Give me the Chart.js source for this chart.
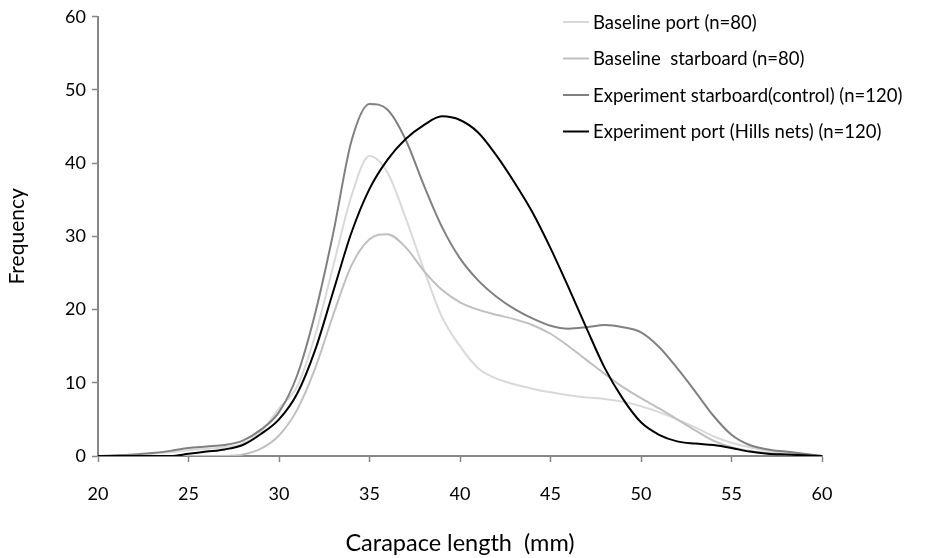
<!DOCTYPE html>
<html>
<head>
<meta charset="utf-8">
<script src="https://cdn.jsdelivr.net/npm/chart.js@4.4.1/dist/chart.umd.min.js"></script>
<style>
    html, body { margin: 0; padding: 0; background: #fff; }
    #wrap { width: 932px; height: 558px; }
</style>
</head>
<body>
<div id="wrap"><canvas id="lengthChart" width="932" height="558"></canvas></div>
<script>
// Carapace length classes (mm)
const lengths = [20, 21, 22, 23, 24, 25, 26, 27, 28, 29, 30, 31, 32, 33, 34, 35, 36, 37, 38, 39, 40,
    41, 42, 43, 44, 45, 46, 47, 48, 49, 50, 51, 52, 53, 54, 55, 56, 57, 58, 59, 60];

// Frequencies
const baselinePort = [0, 0, 0.1, 0.3, 0.5, 0.8, 1.0, 1.2, 1.7, 3.3, 6.5, 9.5, 16.5, 26, 35.5, 41, 38.7, 32.5, 25.5, 19, 15,
    12, 10.6, 9.8, 9.2, 8.7, 8.3, 8.0, 7.8, 7.4, 6.8, 6.0, 5.0, 3.9, 2.7, 1.8, 1.2, 0.7, 0.4, 0.2, 0];
const baselineStarboard = [0, 0, 0, 0, 0, 0, 0, 0, 0.2, 1.0, 2.8, 6.3, 12, 19.3, 26, 29.6, 30.3, 28.5, 25.3, 22.7, 21,
    20, 19.3, 18.7, 17.9, 16.7, 15, 13.1, 11.2, 9.4, 7.9, 6.5, 5.0, 3.5, 2.1, 1.2, 0.7, 0.4, 0.2, 0.1, 0];
const experimentStarboard = [0, 0.1, 0.2, 0.4, 0.7, 1.1, 1.3, 1.5, 2.1, 3.6, 6, 11, 19.5, 30.5, 43, 48.1, 47.3, 43.2, 37, 31.3, 27,
    24, 21.8, 20.1, 18.8, 17.8, 17.4, 17.6, 17.9, 17.6, 16.9, 14.9, 12, 8.8, 5.5, 2.9, 1.5, 0.9, 0.6, 0.3, 0];
const experimentPort = [0, 0, 0, 0, 0, 0.3, 0.6, 0.9, 1.5, 3, 5, 8.5, 14.5, 22.5, 30.5, 36.5, 40.5, 43.3, 45.2, 46.4, 45.9,
    44.2, 41.1, 37.4, 33.3, 28.4, 23, 17.4, 12, 7.8, 4.6, 2.9, 2.0, 1.7, 1.5, 1.1, 0.6, 0.3, 0.2, 0.1, 0];

const seriesLabels = [
    "Baseline port (n=80)",
    "Baseline  starboard (n=80)",
    "Experiment starboard(control) (n=120)",
    "Experiment port (Hills nets) (n=120)"
];
const xTicks = [20, 25, 30, 35, 40, 45, 50, 55, 60];
const yTicks = [0, 10, 20, 30, 40, 50, 60];

const fontFamily = "Lato, 'Open Sans', sans-serif";
const axisGrey = "#868686";

// pair each frequency with its length
function toPoints(values) {
    return values.map((v, i) => ({ x: lengths[i], y: v }));
}

function makeSeries(label, values, color, order) {
    return {
        label: label,
        data: toPoints(values),
        borderColor: color,
        borderWidth: 2,
        pointRadius: 0,
        cubicInterpolationMode: "monotone",
        fill: false,
        order: order,
    };
}

// legend drawn inside the plot, top right, like the original
const insideLegend = {
    id: "insideLegend",
    afterDraw(chart) {
        const ctx = chart.ctx;
        const sets = chart.data.datasets;
        ctx.save();
        ctx.font = "18.5px " + fontFamily;
        ctx.textBaseline = "middle";
        ctx.fillStyle = "#000";
        sets.forEach((ds, i) => {
            const y = 22 + i * 36.5;
            ctx.strokeStyle = ds.borderColor;
            ctx.lineWidth = 2;
            ctx.beginPath();
            ctx.moveTo(563, y);
            ctx.lineTo(589, y);
            ctx.stroke();
            ctx.fillText(ds.label, 593, y + 1);
        });
        ctx.restore();
    }
};

const ctx = document.getElementById("lengthChart").getContext("2d");
const lengthChart = new Chart(ctx, {
    type: "line",
    data: {
        datasets: [
            makeSeries(seriesLabels[0], baselinePort, "#d9d9d9", 4),
            makeSeries(seriesLabels[1], baselineStarboard, "#bfbfbf", 3),
            makeSeries(seriesLabels[2], experimentStarboard, "#808080", 2),
            makeSeries(seriesLabels[3], experimentPort, "#000000", 1),
        ],
    },
    options: {
        responsive: false,
        animation: false,
        devicePixelRatio: 1,
        layout: { padding: { left: 0, right: 110, top: 15, bottom: 0 } },
        plugins: {
            legend: { display: false },
            tooltip: { enabled: false },
        },
        scales: {
            x: {
                type: "linear",
                min: 20,
                max: 60,
                afterBuildTicks: (scale) => { scale.ticks = xTicks.map(v => ({ value: v })); },
                afterFit: (scale) => { scale.height = 102; },
                ticks: { color: "#000", font: { family: fontFamily, size: 18 }, padding: 21 },
                grid: { drawOnChartArea: false, color: axisGrey, tickLength: 6, tickWidth: 1.5 },
                border: { color: axisGrey, width: 2 },
                title: {
                    display: true,
                    text: "Carapace length  (mm)",
                    color: "#000",
                    font: { family: fontFamily, size: 23.5 },
                    padding: { top: 0, bottom: 0 },
                },
            },
            y: {
                min: 0,
                max: 60,
                afterBuildTicks: (scale) => { scale.ticks = yTicks.map(v => ({ value: v })); },
                afterFit: (scale) => { scale.width = 98; },
                ticks: { color: "#000", font: { family: fontFamily, size: 18 }, padding: 6 },
                grid: { drawOnChartArea: false, color: axisGrey, tickLength: 6, tickWidth: 1.5 },
                border: { color: axisGrey, width: 2 },
                title: {
                    display: true,
                    text: "Frequency",
                    color: "#000",
                    font: { family: fontFamily, size: 21 },
                    padding: { top: 5, bottom: 0 },
                },
            },
        },
    },
    plugins: [insideLegend],
});
</script>
</body>
</html>
